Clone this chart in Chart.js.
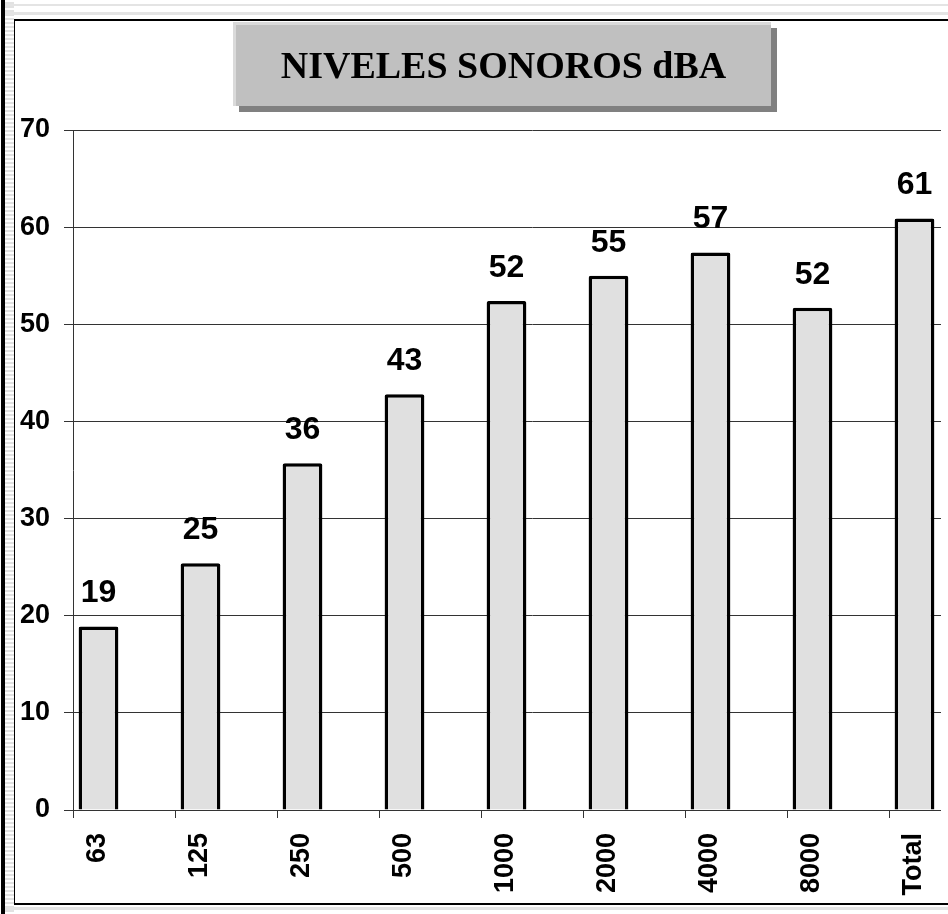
<!DOCTYPE html>
<html>
<head>
<meta charset="utf-8">
<title>Niveles sonoros dBA</title>
<script src="https://cdn.jsdelivr.net/npm/chart.js@4.4.1/dist/chart.umd.min.js"></script>
<style>
  html, body { margin: 0; padding: 0; background: #fff; overflow: hidden; }
  #page { position: relative; width: 948px; height: 914px; overflow: hidden; background: #fff; }
  .edge { position: absolute; left: 1px; top: 0; width: 4px; height: 914px; background: #000; }
  .stripes {
    position: absolute; left: 5px; top: 0; width: 9px; height: 914px;
    background: repeating-linear-gradient(to bottom, #fff 0, #fff 2px, #e2e2e2 2px, #e2e2e2 4px);
  }
  .band { position: absolute; left: 5px; right: 0; background: #e4e4e4; }
  .frame {
    position: absolute; left: 14px; top: 19px; width: 960px; height: 882px;
    border-top: 2px solid #000; border-left: 1px solid #000; border-bottom: 2px solid #000;
  }
  #clip { position: absolute; left: 0; top: 0; width: 941px; height: 914px; overflow: hidden; }
  #wrap { position: relative; width: 1000px; height: 914px; }
  #title {
    position: absolute; left: 233px; top: 22px; width: 538px; height: 84px;
    box-sizing: border-box; background: #c0c0c0;
    border-top: 3px solid #dadada; border-left: 3px solid #dadada;
    box-shadow: 6px 6px 0 #808080;
    font: bold 38px "Liberation Serif", "Times New Roman", serif;
    color: #000; text-align: center; line-height: 80px; white-space: nowrap;
  }
</style>
</head>
<body>
<div id="page">
  <div class="edge"></div>
  <div class="stripes"></div>
  <div class="band" style="top:4px;height:2px"></div>
  <div class="band" style="top:12px;height:3px"></div>
  <div class="band" style="top:907px;height:3px"></div>
  <div class="frame"></div>
  <div id="clip"><div id="wrap"><canvas id="nivelesChart"></canvas></div></div>
  <div id="title">NIVELES SONOROS dBA</div>
</div>

<script>
'use strict';

// ── Data ──────────────────────────────────────
const BANDS   = ['63', '125', '250', '500', '1000', '2000', '4000', '8000', 'Total'];
const NIVELES = [18.9, 25.4, 35.7, 42.8, 52.4, 55.0, 57.4, 51.7, 60.9];
// second (empty) series keeps the bars on the left half of each slot
const VACIO   = [null, null, null, null, null, null, null, null, null];
const Y_TICKS = [0, 10, 20, 30, 40, 50, 60, 70];

const SANS = '"Liberation Sans", Arial, sans-serif';

// ── Value labels above the bars ───────────────
const valueLabels = {
  id: 'valueLabels',
  afterDatasetsDraw(chart) {
    const ctx  = chart.ctx;
    const meta = chart.getDatasetMeta(0);
    ctx.save();
    ctx.font = `bold 32px ${SANS}`;
    ctx.fillStyle = '#000';
    ctx.textAlign = 'center';
    ctx.textBaseline = 'alphabetic';
    meta.data.forEach((bar, i) => {
      const v = chart.data.datasets[0].data[i];
      ctx.fillText(v.toFixed(0), bar.x, bar.y - 24);
    });
    ctx.restore();
  }
};

const ctx = document.getElementById('nivelesChart').getContext('2d');
new Chart(ctx, {
  type: 'bar',
  data: {
    labels: BANDS,
    datasets: [
      {
        label: 'dBA',
        data: NIVELES,
        backgroundColor: '#e0e0e0',
        borderColor: '#000',
        borderWidth: 3.5,
        borderRadius: 2,
        barPercentage: 0.78,
        categoryPercentage: 1
      },
      {
        label: '',
        data: VACIO,
        barPercentage: 0.78,
        categoryPercentage: 1
      }
    ]
  },
  options: {
    responsive: true, maintainAspectRatio: false,
    animation: false,
    devicePixelRatio: 1,
    layout: { padding: { top: 130, right: 9, left: 0, bottom: 0 } },
    plugins: {
      legend: { display: false },
      tooltip: { enabled: false }
    },
    scales: {
      x: {
        offset: true,
        grid: { offset: true, drawOnChartArea: false, tickLength: 8, color: '#333' },
        border: { color: '#333', width: 1 },
        ticks: {
          minRotation: 90, maxRotation: 90,
          labelOffset: -26, padding: 15,
          color: '#000',
          font: { family: SANS, size: 27, weight: 'bold' }
        },
        afterFit: s => { s.height = 104; }
      },
      y: {
        min: 0, max: 70,
        afterBuildTicks: s => { s.ticks = Y_TICKS.map(v => ({ value: v })); },
        grid: { color: '#333', tickLength: 9 },
        border: { color: '#333', width: 1 },
        ticks: {
          padding: 14,
          color: '#000',
          font: { family: SANS, size: 27, weight: 'bold' }
        },
        afterFit: s => { s.width = 73; }
      }
    }
  },
  plugins: [valueLabels]
});
</script>
</body>
</html>
